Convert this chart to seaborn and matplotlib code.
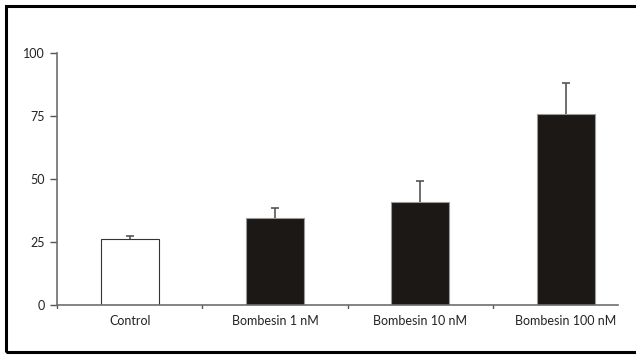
import matplotlib
matplotlib.use("Agg")
import matplotlib.pyplot as plt
import matplotlib.patches as mpatches
import seaborn as sns
import pandas as pd

categories = ["Control", "Bombesin 1 nM", "Bombesin 10 nM", "Bombesin 100 nM"]
values = [26, 34.5, 41, 75.8]
errors = [1.2, 4.0, 8.2, 12.2]
yticks = [0, 25, 50, 75, 100]

sns.set_style("white")
plt.rcParams["font.family"] = ["Lato", "DejaVu Sans"]

fig = plt.figure(figsize=(6.36, 3.56), dpi=100)
ax = fig.add_axes([0.0896, 0.1433, 0.8821, 0.7077])

df = pd.DataFrame({"cat": categories, "val": values})
colors = ["white", "#1c1814", "#1c1814", "#1c1814"]
sns.barplot(data=df, x="cat", y="val", hue="cat", palette=colors, width=0.4,
            errorbar=None, legend=False, ax=ax, edgecolor="#9a9a9a", linewidth=0.8)
for p in ax.patches:
    if p.get_facecolor()[0] > 0.9:
        p.set_edgecolor("#333333")

eb = ax.errorbar(range(len(categories)), values, yerr=[[0]*len(errors), errors],
                 fmt="none", ecolor="#555555", elinewidth=1.2, capsize=3, capthick=1.2)
eb[1][0].set_visible(False)

ax.set_ylim(0, 100)
ax.set_xlim(-0.5, 3.36)
ax.set_yticks(yticks)
ax.set_yticklabels([str(t) for t in yticks])
ax.set_xticks(range(len(categories)))
ax.set_xticklabels(categories)
ax.set_xlabel("")
ax.set_ylabel("")
ax.tick_params(axis="x", length=0, labelsize=9, pad=7, colors="#222222")
ax.tick_params(axis="y", length=5, width=1, labelsize=9, colors="#222222", left=True,
               color="#555555")
for b in [0.5, 1.5, 2.5, -0.5]:
    ax.plot([b, b], [0, -1.2], color="#555555", lw=1, clip_on=False)
for s in ["top", "right"]:
    ax.spines[s].set_visible(False)
for s in ["left", "bottom"]:
    ax.spines[s].set_color("#6e6e6e")
    ax.spines[s].set_linewidth(1.2)

fig.patches.append(mpatches.Rectangle((6/636, 1-352/356), 1.1, (352-6)/356,
                                      transform=fig.transFigure, fill=False,
                                      edgecolor="black", linewidth=2.2))

fig.savefig("out.png", dpi=100)
